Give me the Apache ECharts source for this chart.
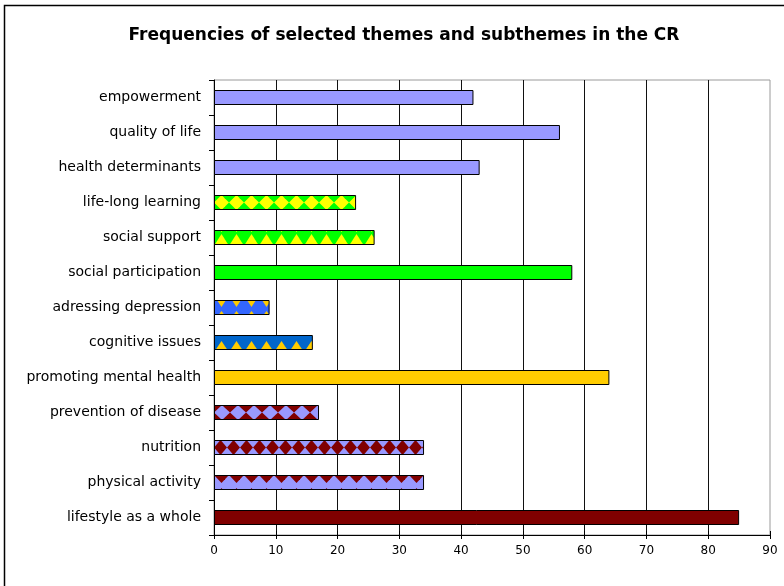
<!DOCTYPE html>
<html>
<head>
<meta charset="utf-8">
<script src="https://cdn.jsdelivr.net/npm/echarts@6/dist/echarts.min.js"></script>
<style>
  html, body { margin: 0; padding: 0; background: #fff; }
  #chart { width: 784px; height: 586px; }
</style>
</head>
<body>
<div id="chart"></div>
<script>
const categories = [
  'empowerment', 'quality of life', 'health determinants', 'life-long learning',
  'social support', 'social participation', 'adressing depression', 'cognitive issues',
  'promoting mental health', 'prevention of disease', 'nutrition', 'physical activity',
  'lifestyle as a whole'
]
const values = [42, 56, 43, 23, 26, 58, 9, 16, 64, 17, 34, 34, 85]
const xTickLabels = ['0', '10', '20', '30', '40', '50', '60', '70', '80', '90']

// plot box (pixels)
const GRID_LEFT = 214
const GRID_TOP = 80
const BAND = 35
const BAR_H = 15
// bar top inside a band, patterns are anchored to the canvas origin
const BAR_OFFSET = (GRID_TOP + (BAND - BAR_H) / 2) % BAND

const LAV = '#9999ff', MAROON = '#800000', GREEN = '#00ff00', YELLOW = '#ffff00'
const GOLD = '#ffcc00', BLUE = '#3366ff', DBLUE = '#0066cc'

function poly(g, pts) {
  g.beginPath()
  g.moveTo(pts[0][0], pts[0][1])
  for (let i = 1; i < pts.length; i++) g.lineTo(pts[i][0], pts[i][1])
  g.closePath()
  g.fill()
}

function tile(bg, fg, period, draw) {
  const c = document.createElement('canvas')
  c.width = period
  c.height = BAND
  const g = c.getContext('2d')
  g.fillStyle = bg
  g.fillRect(0, 0, period, BAND)
  g.fillStyle = fg
  const phase = GRID_LEFT % period
  for (let k = -1; k <= 1; k++) draw(g, phase + k * period, BAR_OFFSET, period, BAR_H)
  return { image: c, repeat: 'repeat' }
}

const diamond = (g, x, y, w, h) =>
  poly(g, [[x + w / 2, y], [x + w, y + h / 2], [x + w / 2, y + h], [x, y + h / 2]])
const triDown = (depth, width) => (g, x, y, w, h) => {
  const bw = width || w
  poly(g, [[x + w / 2 - bw / 2, y], [x + w / 2 + bw / 2, y], [x + w / 2, y + depth]])
}
const triUp = (depth, width) => (g, x, y, w, h) => {
  const bw = width || w
  poly(g, [[x + w / 2 - bw / 2, y + h], [x + w / 2 + bw / 2, y + h], [x + w / 2, y + h - depth]])
}
const both = (a, b) => (g, x, y, w, h) => { a(g, x, y, w, h); b(g, x, y, w, h) }

const barFills = [
  LAV,
  LAV,
  LAV,
  tile(GREEN, YELLOW, 15, diamond),
  tile(GREEN, YELLOW, 15, both(triUp(11, 14), triDown(2, 3))),
  GREEN,
  tile(BLUE, GOLD, 15, both(triDown(7, 9), triUp(4, 6))),
  tile(DBLUE, GOLD, 15, triUp(9, 12)),
  GOLD,
  tile(MAROON, LAV, 16, diamond),
  tile(LAV, MAROON, 13, diamond),
  tile(LAV, MAROON, 15, both(triDown(8), triUp(2, 3))),
  MAROON
]

const FONT = 'DejaVu Sans'
const chart = echarts.init(document.getElementById('chart'), null, { renderer: 'canvas' })

const option = {
  animation: false,
  backgroundColor: '#fff',
  title: {
    text: 'Frequencies of selected themes and subthemes in the CR',
    left: 399,
    top: 22,
    textAlign: 'center',
    textStyle: { fontFamily: FONT, fontWeight: 'bold', fontSize: 17, color: '#000' }
  },
  grid: {
    left: GRID_LEFT,
    top: GRID_TOP,
    width: 556,
    height: BAND * categories.length,
    show: true,
    borderColor: '#9a9a9a',
    borderWidth: 1,
    backgroundColor: 'transparent'
  },
  xAxis: [
    {
      type: 'value',
      min: 0,
      max: 90,
      interval: 10,
      axisLine: { show: true, onZero: false, lineStyle: { color: '#000', width: 1 } },
      axisTick: { show: true, length: 4, lineStyle: { color: '#000' } },
      axisLabel: {
        color: '#000', fontFamily: FONT, fontSize: 12, margin: 10,
        formatter: v => xTickLabels[Math.round(v / 10)]
      },
      splitLine: { show: true, showMinLine: false, showMaxLine: false, lineStyle: { color: '#111', width: 1 } }
    },
    {
      type: 'value',
      position: 'bottom',
      min: 0,
      max: 90,
      interval: 10,
      axisLine: { show: false },
      axisTick: { show: true, inside: true, length: 4, lineStyle: { color: '#000' } },
      axisLabel: { show: false },
      splitLine: { show: false }
    }
  ],
  yAxis: {
    type: 'category',
    inverse: true,
    data: categories,
    axisLine: { show: true, lineStyle: { color: '#000', width: 1 } },
    axisTick: { show: true, length: 5, lineStyle: { color: '#000' } },
    axisLabel: { color: '#000', fontFamily: FONT, fontSize: 14, margin: 13 },
    splitLine: { show: false }
  },
  graphic: [
    {
      type: 'rect',
      shape: { x: 4.5, y: 5.5, width: 800, height: 620 },
      style: { fill: 'none', stroke: '#000', lineWidth: 1.5 },
      silent: true
    }
  ],
  series: [
    {
      type: 'bar',
      xAxisIndex: 0,
      barWidth: BAR_H,
      silent: true,
      itemStyle: { borderColor: '#000', borderWidth: 1 },
      data: values.map((v, i) => ({ value: v, itemStyle: { color: barFills[i] } }))
    }
  ]
}

chart.setOption(option)
</script>
</body>
</html>
